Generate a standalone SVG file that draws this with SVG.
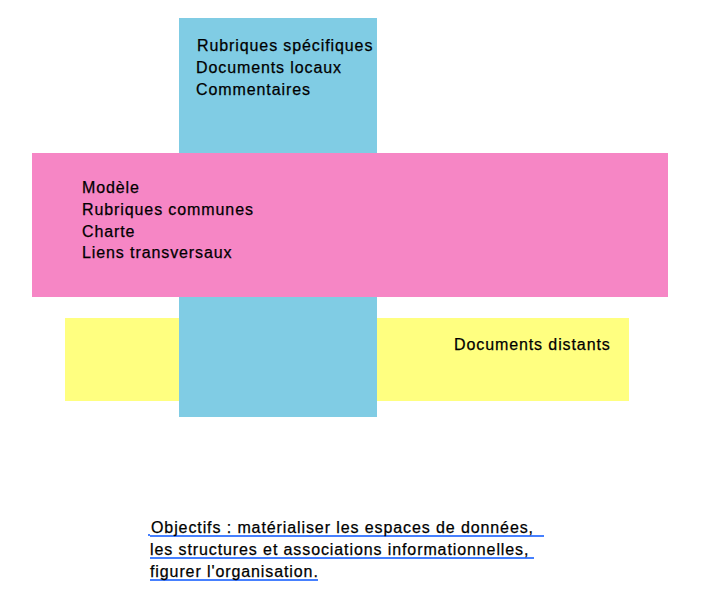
<svg xmlns="http://www.w3.org/2000/svg" width="704" height="591" viewBox="0 0 704 591">
<style>
text{font-family:"Liberation Sans",Arial,sans-serif;font-size:16px;letter-spacing:0.9px;fill:#000;stroke:#000;stroke-width:0.25px}
.ul{stroke:#4680ff;stroke-width:1.2;shape-rendering:crispEdges}
</style>
<rect width="704" height="591" fill="#fff"/>
<g id="documents-distants">
<rect x="65" y="318" width="564" height="83" fill="#ffff80"/>
<text x="454" y="350">Documents distants</text>
</g>
<g id="espace-local">
<rect x="179" y="18" width="198" height="399" fill="#80cce4"/>
<text x="197" y="51">Rubriques spécifiques</text>
<text x="196" y="73">Documents locaux</text>
<text x="196" y="95">Commentaires</text>
</g>
<g id="espace-commun">
<rect x="32" y="153" width="636" height="144" fill="#f686c5"/>
<text x="82" y="193">Modèle</text>
<text x="82" y="215">Rubriques communes</text>
<text x="82" y="237">Charte</text>
<text x="82" y="258">Liens transversaux</text>
</g>
<g id="connectors"></g>
<g id="objectifs">
<line class="ul" x1="150" y1="536" x2="544" y2="536"/>
<rect x="148" y="534" width="2" height="2" fill="#4680ff"/>
<line class="ul" x1="150" y1="558" x2="534" y2="558"/>
<line class="ul" x1="150" y1="580" x2="318" y2="580"/>
<text x="151" y="533">Objectifs : matérialiser les espaces de données,</text>
<text x="150" y="555">les structures et associations informationnelles,</text>
<text x="150" y="577">figurer l'organisation.</text>
</g>
</svg>
